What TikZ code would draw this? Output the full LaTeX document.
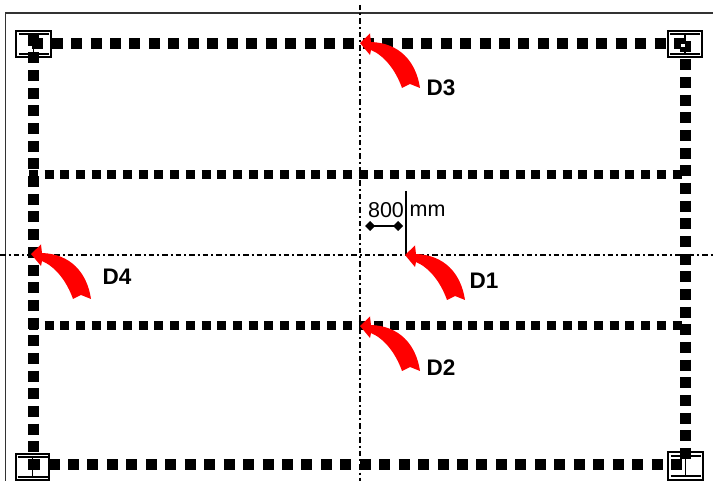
\documentclass[tikz,border=0pt]{standalone}
\usepackage{fontspec}
\setmainfont{Liberation Sans}
\usetikzlibrary{arrows.meta}

\tikzset{
  axisline/.style={line width=1.7pt,black,dash pattern=on 5.5pt off 3pt on 2pt off 3pt},
  outerrow/.style={line width=11pt,dash pattern=on 11pt off 8.45pt},
  outercol/.style={line width=11pt,dash pattern=on 11pt off 6.67pt},
  innerrow/.style={line width=9pt,dash pattern=on 9pt off 6.7pt},
  cornerbox/.style={draw,line width=2pt,minimum width=35pt,minimum height=26pt,inner sep=0pt},
  dlabel/.style={font=\fontsize{22.5}{26}\selectfont\bfseries},
  dimlabel/.style={font=\fontsize{21.5}{26}\selectfont,inner sep=0pt},
  ibeam/.pic={
    \draw[line width=1.8pt] (-15,-10) -- (15,-10) (-15,10) -- (15,10) (0,-10) -- (0,10);
  },
  turnarrow/.pic={
    \fill[red] (-1,0) -- (9,-9.5) -- (10,-1) .. controls (38,0) and (55,18) .. (59,45)
      -- (49,41) -- (41,45) .. controls (35,28) and (24,13) .. (10,7) -- (9,12) -- cycle;
  }
}

\begin{document}
\begin{tikzpicture}[x=1pt,y=-1pt]
  \useasboundingbox (0,0) rectangle (713,481);

  % frame and axes
  \coordinate (framesw) at (5.5,481);
  \coordinate (framenw) at (5.5,13);
  \coordinate (framene) at (713,13);
  \draw[line width=1.8pt,black!80] (framesw) -- (framenw) -- (framene);
  \coordinate (axisn) at (360,5);
  \coordinate (axiss) at (360,481);
  \coordinate (axisw) at (0,255);
  \coordinate (axise) at (713,255);
  \draw[axisline] (axisn) -- (axiss);
  \draw[axisline] (axisw) -- (axise);

  % rows and columns of squares
  \coordinate (topw) at (32.2,44);
  \coordinate (tope) at (685,44);
  \coordinate (botw) at (29.1,464);
  \coordinate (bote) at (683,464);
  \coordinate (leftn) at (33,34.8);
  \coordinate (lefts) at (33,471);
  \coordinate (rightn) at (685,41.5);
  \coordinate (rights) at (685,459);
  \draw[outerrow] (topw) -- (tope);
  \draw[outerrow] (botw) -- (bote);
  \draw[outercol] (leftn) -- (lefts);
  \draw[outercol] (rightn) -- (rights);
  \foreach \r/\y in {one/175,two/326}{
    \coordinate (row\r w) at (28.8,\y);
    \coordinate (row\r e) at (682,\y);
    \draw[innerrow] (row\r w) -- (row\r e);
  }

  % corner boxes
  \foreach \n/\x/\y/\w/\h in {tl/33.5/44/35/26,tr/685/44/34/26,bl/32.5/467/33/26,br/685.5/466/35/28}{
    \node[cornerbox,minimum width=\w pt,minimum height=\h pt] (box\n) at (\x,\y) {};
    \pic at (box\n) {ibeam};
  }
  \fill[white] (681,44.5) rectangle (685,47.5);

  % dimension
  \coordinate (dimtop) at (406,191);
  \coordinate (dimfoot) at (406,255);
  \coordinate (dima) at (365,226);
  \coordinate (dimb) at (403,226);
  \draw[line width=1.8pt] (dimtop) -- (dimfoot);
  \draw[{Diamond[length=10pt,width=10pt]}-{Diamond[length=10pt,width=10pt]},line width=1.8pt] (dima) -- (dimb);
  \node[dimlabel] (val) at (386,210.5) {800};
  \node[dimlabel] (unit) at (427.5,210.5) {mm};

  % red arrows
  \foreach \n/\x/\y/\lx/\ly in {1/406/255/484/281,2/361/326/441/368,3/361/43/441/88,4/32/254/117/277}{
    \coordinate (tip\n) at (\x,\y);
    \pic at (tip\n) {turnarrow};
    \node[dlabel] (d\n) at (\lx,\ly) {D\n};
  }
\end{tikzpicture}
\end{document}
